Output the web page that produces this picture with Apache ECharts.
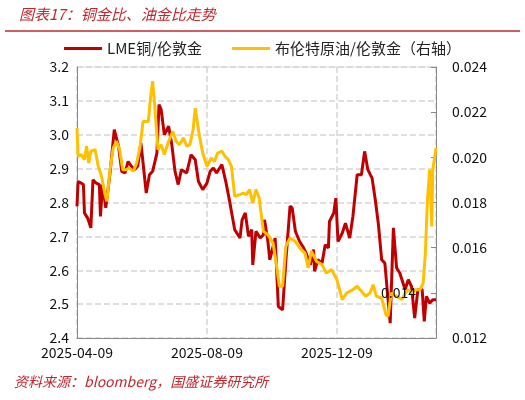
<!DOCTYPE html>
<html><head><meta charset="utf-8">
<script src="https://cdn.jsdelivr.net/npm/echarts@6/dist/echarts.min.js"></script>
<style>html,body{margin:0;padding:0;background:#fff}#c{width:525px;height:400px}</style>
</head><body><div id="c"></div>
<script>
const startDate = '2025-04-09';
const xTickLabels = ['2025-04-09','2025-08-09','2025-12-09'];
const copperDays = [0,1,4,6,7,10,13,15,18,21,22,24,27,31,35,39,42,45,48,51,54,57,60,65,68,71,75,77,79,82,86,89,92,95,98,103,107,111,114,118,122,125,128,131,136,140,143,148,153,155,158,161,164,165,168,172,175,176,179,181,186,189,193,196,200,202,205,209,212,215,219,222,223,226,230,233,236,237,241,243,245,249,252,256,259,263,267,270,273,277,280,283,286,289,292,294,297,300,303,308,311,314,317,320,324,326,328,331,334,337];
const copperGold = [2.789,2.862,2.857,2.853,2.769,2.754,2.725,2.867,2.857,2.853,2.759,2.853,2.784,2.887,3.015,2.966,2.892,2.887,2.921,2.907,2.897,2.907,2.976,2.828,2.882,2.892,2.946,3.089,3.074,3.000,3.025,2.971,2.892,2.853,2.897,2.887,2.941,2.926,2.862,2.838,2.857,2.892,2.902,2.887,2.912,2.857,2.808,2.720,2.695,2.749,2.769,2.700,2.720,2.616,2.715,2.695,2.705,2.749,2.690,2.631,2.695,2.493,2.483,2.626,2.789,2.784,2.715,2.685,2.670,2.651,2.616,2.661,2.597,2.631,2.621,2.675,2.666,2.744,2.769,2.813,2.685,2.710,2.739,2.695,2.759,2.882,2.882,2.951,2.897,2.872,2.808,2.734,2.631,2.621,2.513,2.444,2.725,2.607,2.592,2.543,2.572,2.552,2.459,2.543,2.543,2.449,2.523,2.503,2.513,2.513];
const oilDays = [0,1,4,7,9,11,13,17,20,23,26,28,31,34,37,40,43,46,49,53,56,59,62,67,69,71,73,76,79,82,86,90,93,96,100,103,106,109,111,115,118,122,126,129,132,136,139,142,145,148,153,156,159,162,165,168,171,175,179,184,187,190,193,196,200,205,209,214,217,220,225,230,234,239,244,249,253,259,263,267,271,275,278,281,286,290,292,295,300,305,308,311,314,318,322,325,327,329,331,333,334,337];
const oilGold = [0.02130,0.02004,0.02012,0.01990,0.02049,0.01975,0.02027,0.02034,0.01960,0.01916,0.01842,0.01805,0.01945,0.02041,0.02071,0.02034,0.01945,0.01945,0.01953,0.01938,0.01975,0.02041,0.02159,0.02159,0.02263,0.02337,0.02226,0.02034,0.02056,0.02012,0.02071,0.02115,0.02071,0.02056,0.02086,0.02049,0.02056,0.02123,0.02218,0.02093,0.02019,0.01960,0.01997,0.01982,0.02019,0.02027,0.02004,0.01990,0.01960,0.01827,0.01835,0.01842,0.01835,0.01857,0.01798,0.01857,0.01820,0.01672,0.01658,0.01621,0.01532,0.01429,0.01429,0.01606,0.01643,0.01628,0.01599,0.01576,0.01510,0.01584,0.01539,0.01525,0.01488,0.01503,0.01458,0.01370,0.01399,0.01414,0.01429,0.01407,0.01385,0.01399,0.01436,0.01385,0.01377,0.01303,0.01296,0.01399,0.01385,0.01370,0.01399,0.01414,0.01399,0.01414,0.01414,0.01444,0.01576,0.01813,0.01945,0.01694,0.01945,0.02041];
const leftTicks = {min:2.4,max:3.2,interval:0.1};
const rightTicks = {min:0.012,max:0.024,interval:0.002};

const font = '"Noto Sans CJK SC","Liberation Sans",sans-serif';
const chart = echarts.init(document.getElementById('c'));
chart.setOption({
  animation:false,
  textStyle:{fontFamily:font},
  title:{text:'图表17：铜金比、油金比走势',left:14,top:2,textStyle:{color:'#c0272d',fontStyle:'italic',fontSize:15,fontWeight:'normal',fontFamily:font}},
  legend:{top:36,left:'center',itemWidth:38,itemHeight:3,itemGap:30,icon:'rect',textStyle:{fontSize:15,color:'#222'},
    data:['LME铜/伦敦金','布伦特原油/伦敦金（右轴）']},
  grid:{left:77,right:89,top:67,bottom:62},
  xAxis:{type:'value',min:0,max:337,interval:122,
    axisLine:{show:true,lineStyle:{color:'#888'}},axisTick:{show:false},
    axisLabel:{fontSize:14,color:'#111',showMaxLabel:false,formatter:v=>xTickLabels[Math.round(v/122)]||''},
    splitLine:{show:true,lineStyle:{type:'dashed',color:'#d5d5d5',width:1.5}}},
  yAxis:[
    {type:'value',min:leftTicks.min,max:leftTicks.max,interval:leftTicks.interval,
     axisLine:{show:true,lineStyle:{color:'#888'}},axisTick:{show:false},
     axisLabel:{fontSize:14,color:'#111',formatter:v=>v.toFixed(1)},
     splitLine:{show:true,lineStyle:{type:'dashed',color:'#d5d5d5',width:1.5}}},
    {type:'value',min:rightTicks.min,max:rightTicks.max,interval:rightTicks.interval,position:'right',
     axisLine:{show:true,lineStyle:{color:'#888'}},axisTick:{show:true,inside:true,length:5,lineStyle:{color:'#888'}},
     axisLabel:{fontSize:14,color:'#111',margin:16,formatter:v=>Math.abs(v-0.014)<1e-6?'':v.toFixed(3)},
     splitLine:{show:false}}
  ],
  graphic:[
    {type:'line',shape:{x1:5,y1:31,x2:520,y2:31},style:{stroke:'#c0272d',lineWidth:1.5}},
    {type:'line',shape:{x1:77,y1:67,x2:436,y2:67},style:{stroke:'#ddd',lineWidth:1}},
    {type:'text',left:381,top:286,z:100,style:{text:'0.014',fontSize:14,fill:'#111',fontFamily:font}},
    {type:'text',left:14,top:375,style:{text:'资料来源：bloomberg，国盛证券研究所',fontSize:14,fontStyle:'italic',fill:'#c0272d',fontFamily:font}}
  ],
  series:[
    {name:'LME铜/伦敦金',type:'line',yAxisIndex:0,showSymbol:false,z:2,
     lineStyle:{color:'#c00000',width:3},itemStyle:{color:'#c00000'},
     data:copperDays.map((d,i)=>[d,copperGold[i]])},
    {name:'布伦特原油/伦敦金（右轴）',type:'line',yAxisIndex:1,showSymbol:false,z:3,
     lineStyle:{color:'#ffc000',width:3},itemStyle:{color:'#ffc000'},
     data:oilDays.map((d,i)=>[d,oilGold[i]])}
  ]
});
</script></body></html>
